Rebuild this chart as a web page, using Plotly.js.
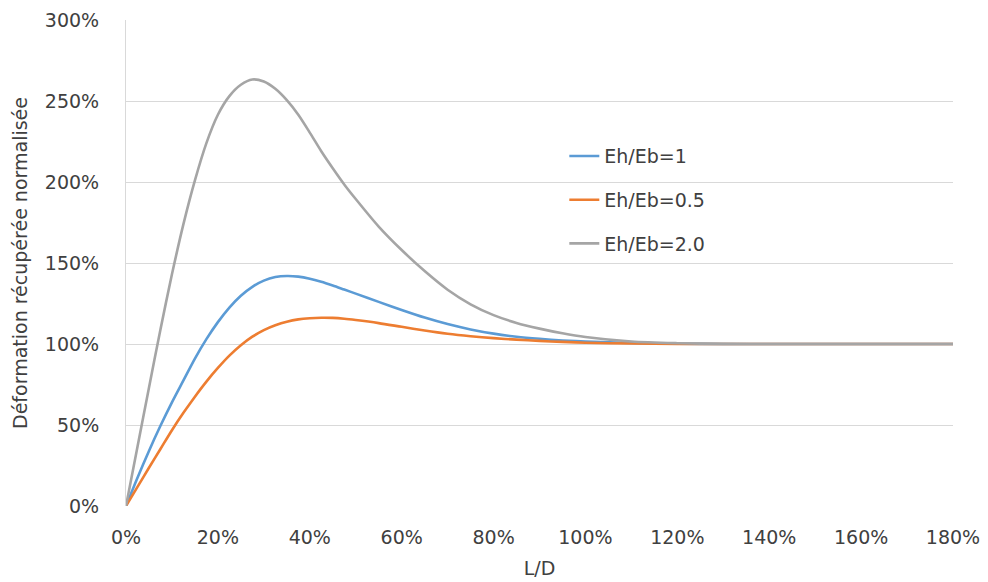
<!DOCTYPE html>
<html>
<head>
<meta charset="utf-8">
<script src="https://cdn.plot.ly/plotly-3.0.1.min.js"></script>
<style>
  html, body { margin: 0; padding: 0; background: #ffffff; }
  #chart { width: 988px; height: 582px; }
</style>
</head>
<body>
<div id="chart"></div>
<script>
// L/D ratio (%)
const ratioLD = [0, 2.5, 5, 7.5, 10, 12.5, 15, 17.5, 20, 22.5, 25, 27.5, 30, 32.5, 35, 37.5, 40, 42.5, 45, 47.5, 50,
                 55, 60, 65, 70, 75, 80, 85, 90, 95, 100, 110, 120, 130, 140, 160, 180];

// Normalised recovered strain (%) for each stiffness ratio Eh/Eb
const strainEh1  = [0, 17.5, 34, 49.5, 64, 77.5, 91, 103, 113.5, 122.5, 129.8, 135.3, 139.1, 141.3, 142, 141.6, 140.3, 138.4, 136.1, 133.6, 131.1,
                    126, 121, 116.3, 112.3, 109, 106.4, 104.5, 103.2, 102.2, 101.5, 100.6, 100.2, 100, 100, 100, 100];
const strainEh05 = [0, 11.8, 23.6, 35.2, 46.8, 57.5, 67.5, 76.8, 85.2, 92.8, 99.2, 104.5, 108.6, 111.6, 113.8, 115.2, 115.9, 116.2, 116.1, 115.6, 114.8,
                    112.9, 110.6, 108.3, 106.3, 104.8, 103.6, 102.7, 101.9, 101.3, 100.8, 100.3, 100, 100, 100, 100, 100];
const strainEh20 = [0, 36.5, 73, 109, 143, 174, 201, 224, 241.5, 253, 260, 263.3, 262, 257.5, 250.5, 241.5, 230.5, 219, 208.5, 198.5, 189.5,
                    172.5, 158, 145, 133.5, 124.5, 117.8, 113, 109.5, 106.6, 104.3, 101.5, 100.5, 100.1, 100, 100, 100];

const seriesNames  = ['Eh/Eb=1', 'Eh/Eb=0.5', 'Eh/Eb=2.0'];
const seriesValues = [strainEh1, strainEh05, strainEh20];
const seriesColors = ['#5B9BD5', '#ED7D31', '#A5A5A5'];

const xTicks = [0, 20, 40, 60, 80, 100, 120, 140, 160, 180];
const yTicks = [0, 50, 100, 150, 200, 250, 300];

const FONT = 'DejaVu Sans, Verdana, sans-serif';
const TEXT = '#404040';
const GRID = '#D9D9D9';

const traces = seriesValues.map((vals, i) => ({
  type: 'scatter',
  mode: 'lines',
  x: ratioLD,
  y: vals,
  name: seriesNames[i],
  legendgroup: 'g' + i,
  line: { color: seriesColors[i], width: 2.6, shape: 'spline', smoothing: 0.8 },
  hoverinfo: 'x+y+name'
}));

const layout = {
  width: 988,
  height: 582,
  paper_bgcolor: '#ffffff',
  plot_bgcolor: '#ffffff',
  margin: { l: 126, r: 35, t: 20, b: 76 },
  font: { family: FONT, size: 19, color: TEXT },
  showlegend: true,
  legend: {
    x: 0.53, y: 0.759, xanchor: 'left', yanchor: 'top',
    bgcolor: 'rgba(255,255,255,0)',
    borderwidth: 0,
    font: { family: FONT, size: 19, color: TEXT },
    traceorder: 'grouped',
    tracegroupgap: 16,
    itemwidth: 30
  },
  xaxis: {
    range: [0, 180],
    tickvals: xTicks,
    ticktext: xTicks.map(v => v + '%'),
    showgrid: false,
    zeroline: false,
    showline: false,
    ticks: '',
    ticklabelstandoff: 18,
    tickfont: { family: FONT, size: 19, color: TEXT },
    title: { text: 'L/D', font: { family: FONT, size: 19, color: TEXT }, standoff: 14 }
  },
  yaxis: {
    range: [0, 300],
    tickvals: yTicks,
    ticktext: yTicks.map(v => v + '%'),
    showgrid: true,
    gridcolor: GRID,
    gridwidth: 1,
    zeroline: false,
    showline: true,
    linecolor: GRID,
    linewidth: 1,
    ticks: '',
    ticklabelstandoff: 22,
    tickfont: { family: FONT, size: 19, color: TEXT },
    title: { text: 'Déformation récupérée normalisée', font: { family: FONT, size: 19, color: TEXT }, standoff: 12 }
  }
};

Plotly.newPlot('chart', traces, layout, { staticPlot: true, displayModeBar: false });
</script>
</body>
</html>
